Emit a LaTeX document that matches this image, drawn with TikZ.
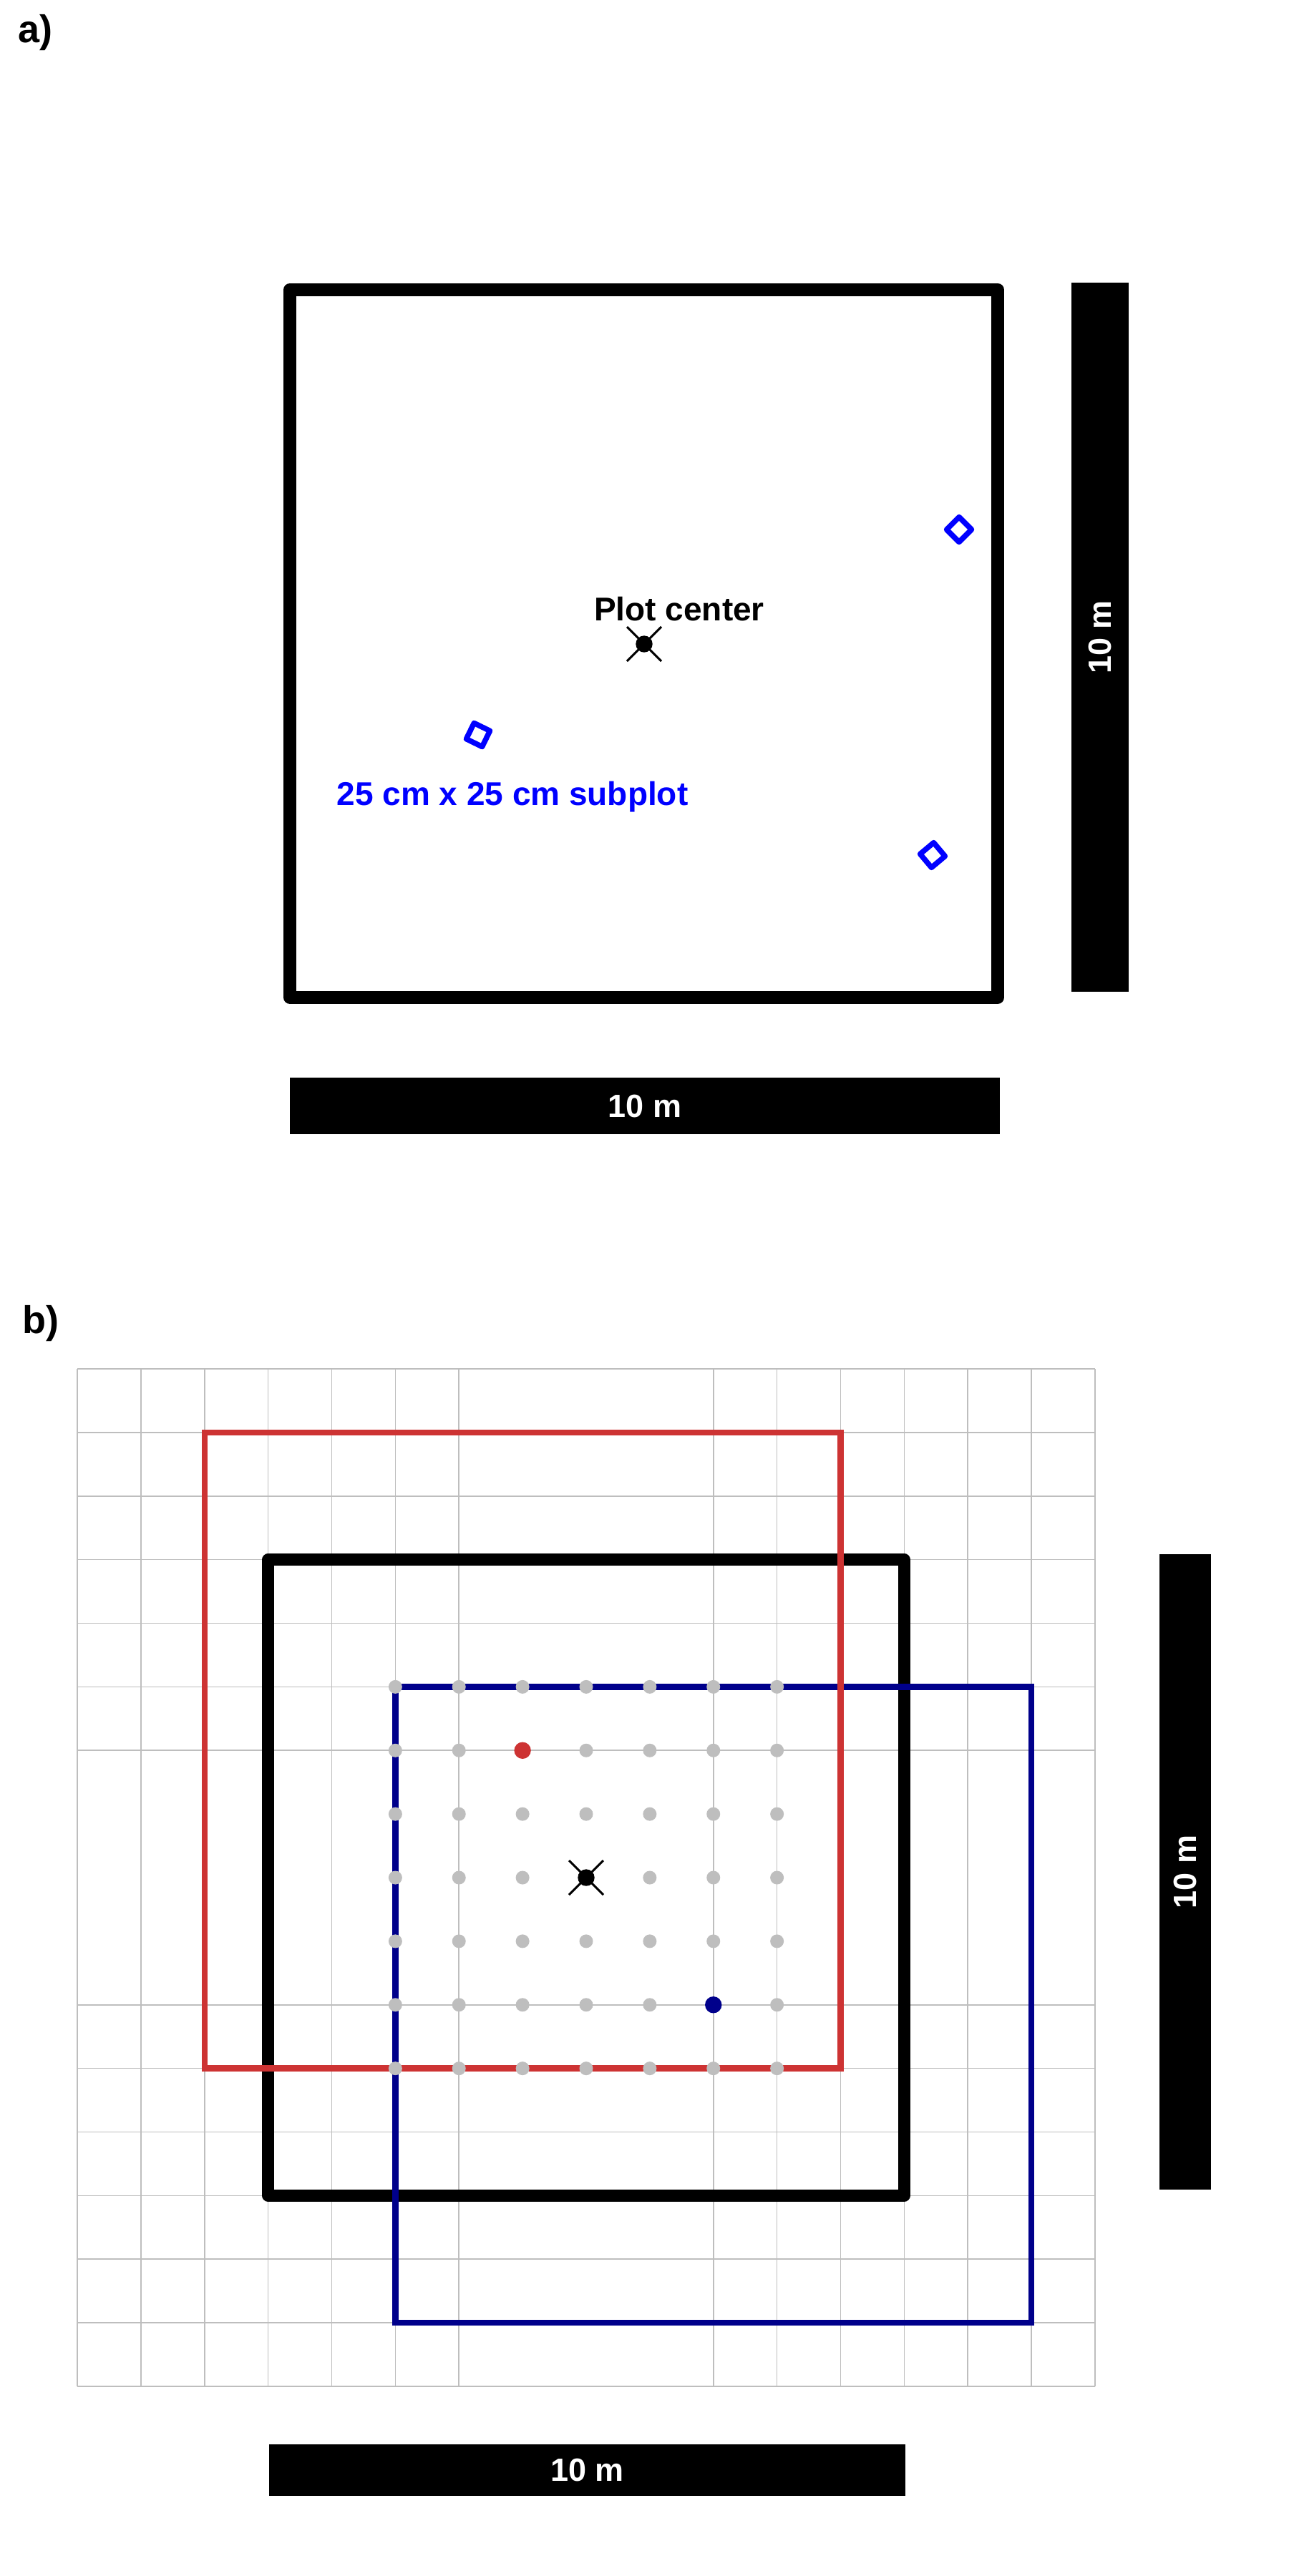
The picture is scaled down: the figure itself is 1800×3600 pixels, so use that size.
\documentclass[tikz,border=0pt]{standalone}
\usepackage{fontspec}
\setmainfont{Liberation Sans}
\definecolor{plotred}{RGB}{205,51,51}
\definecolor{plotnavy}{RGB}{0,0,139}
\definecolor{gridgray}{RGB}{190,190,190}
\definecolor{subblue}{RGB}{0,0,255}
\begin{document}
\begin{tikzpicture}[x=1pt,y=-1pt,
  plotbox/.style={draw=black, line width=18pt, line join=round},
  panellbl/.style={font=\fontsize{54}{60}\selectfont\bfseries, inner sep=0pt, anchor=base west},
  maintxt/.style={font=\fontsize{46}{52}\selectfont\bfseries, inner sep=0pt, anchor=base},
  scalebar/.style={fill=black, inner sep=0pt, text=white, font=\fontsize{45}{50}\selectfont\bfseries},
  subplot/.style={draw=subblue, line width=7.5pt, line join=round, rectangle, minimum size=24.7pt, inner sep=0pt},
  gridline/.style={draw=gridgray, line width=1.6pt},
  xmark/.style={draw=black, line width=3pt},
  redsq/.style={draw=plotred, line width=8.5pt},
  navysq/.style={draw=plotnavy, line width=8.5pt}]
\useasboundingbox (0,0) rectangle (1800,3600);
\fill[white] (0,0) rectangle (1800,3600);

% ---------- panel a ----------
\node[panellbl] (la) at (25,59) {a)};
\draw[plotbox] (405,405) rectangle (1394,1394);
\coordinate (pcA) at (900,900);
\draw[xmark] (pcA) ++(-24pt,-24pt) -- ++(48pt,48pt);
\draw[xmark] (pcA) ++(-24pt,24pt) -- ++(48pt,-48pt);
\fill[black] (pcA) circle (11.7pt);
\node[maintxt] (pctxt) at (949,867) {Plot center};
\node[subplot, rotate=45] (sub1) at (1340,740) {};
\node[subplot, rotate=-26] (sub2) at (668,1027) {};
\node[subplot, rotate=40] (sub3) at (1303,1195) {};
\node[maintxt, text=subblue] (subtxt) at (716,1125) {25 cm x 25 cm subplot};
\node[scalebar, minimum width=992pt, minimum height=79pt] (barAh) at (901,1545.5) {10 m};
\node[scalebar, rotate=90, minimum width=991pt, minimum height=80pt] (barAv) at (1537,890.5) {10 m};

% ---------- panel b ----------
\node[panellbl] (lb) at (31,1863) {b)};
\begin{scope}[shift={(108,1913)}, x=88.875pt, y=-88.875pt]
  \foreach \i in {0,1,2,3,4,5,6,10,11,12,13,14,15,16} {
    \draw[gridline] (\i,0) -- (\i,16);
    \draw[gridline] (0,\i) -- (16,\i);
  }
  \draw[plotbox, line width=16.5pt] (3,3) rectangle (13,13);
  \draw[navysq] (5,5) rectangle (15,15);
  \draw[redsq] (2,1) rectangle (12,11);
  \foreach \i in {5,...,11} {
    \foreach \j in {5,...,11} {
      \fill[gridgray] (\i,\j) circle (9.5pt);
    }
  }
  \fill[plotred] (7,6) circle (11.7pt);
  \fill[plotnavy] (10,10) circle (11.7pt);
  \coordinate (pcB) at (8,8);
  \fill[white] (pcB) circle (12pt);
  \draw[xmark] (pcB) ++(-24pt,-24pt) -- ++(48pt,48pt);
  \draw[xmark] (pcB) ++(-24pt,24pt) -- ++(48pt,-48pt);
  \fill[black] (pcB) circle (11.7pt);
\end{scope}
\node[scalebar, minimum width=889pt, minimum height=72pt] (barBh) at (820.5,3452) {10 m};
\node[scalebar, rotate=90, minimum width=888pt, minimum height=72pt] (barBv) at (1656,2616) {10 m};
\end{tikzpicture}
\end{document}
